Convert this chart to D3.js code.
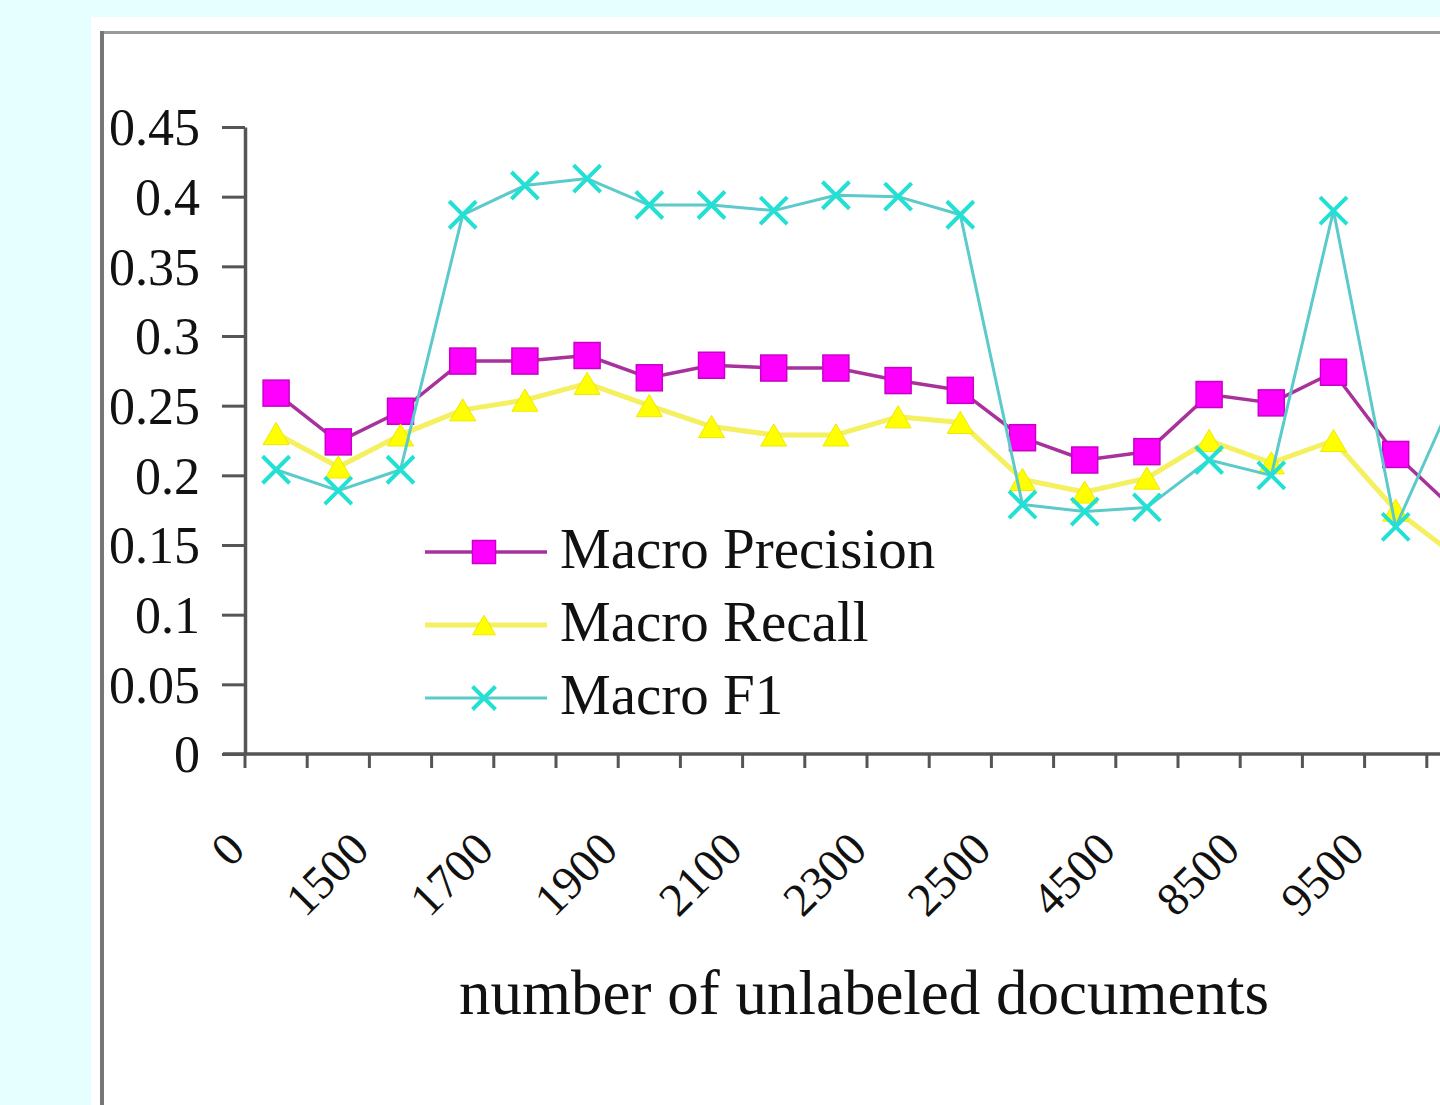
<!DOCTYPE html>
<html>
<head>
<meta charset="utf-8">
<script src="https://cdn.jsdelivr.net/npm/d3@7"></script>
<style>
    html, body { margin: 0; padding: 0; background: #e6ffff; overflow: hidden; }
    svg { display: block; }
    text { font-family: "Liberation Serif", "Times New Roman", serif; fill: #111; }
</style>
</head>
<body>
<svg id="chart"></svg>
<script>
// category labels on the x axis (only every other one is printed)
const categories = ['0', '1400', '1500', '1600', '1700', '1800', '1900', '2000', '2100', '2200',
    '2300', '2400', '2500', '3500', '4500', '6500', '8500', '9000', '9500', '10000'];

const macroPrecision = [0.259, 0.224, 0.246, 0.282, 0.282, 0.286, 0.270, 0.279, 0.277, 0.277,
    0.268, 0.261, 0.227, 0.211, 0.217, 0.258, 0.252, 0.274, 0.215, 0.173];
const macroRecall = [0.230, 0.206, 0.229, 0.247, 0.254, 0.266, 0.250, 0.235, 0.229, 0.229,
    0.242, 0.238, 0.197, 0.188, 0.198, 0.225, 0.209, 0.225, 0.175, 0.141];
const macroF1 = [0.204, 0.189, 0.204, 0.387, 0.408, 0.413, 0.394, 0.394, 0.390, 0.401,
    0.400, 0.387, 0.179, 0.174, 0.177, 0.211, 0.200, 0.390, 0.163, 0.263];

const seriesNames = ['Macro Precision', 'Macro Recall', 'Macro F1'];

const yTicks = [0, 0.05, 0.1, 0.15, 0.2, 0.25, 0.3, 0.35, 0.4, 0.45];
const yTickLabels = ['0', '0.05', '0.1', '0.15', '0.2', '0.25', '0.3', '0.35', '0.4', '0.45'];

const xTitle = 'number of unlabeled documents';

class LineChart {
    constructor(_config) {
        this.config = {
            parentElement: _config.parentElement,
            containerWidth: 1440,
            containerHeight: 1105,
            plot: { left: 245, right: 1489, top: 127, bottom: 754 },
            legendX: 425,
            legendY: 552,
            legendStep: 73,
            styles: [
                { line: '#a8329c', width: 3.5, fill: '#ff00ff', stroke: '#c800c8', marker: 'square' },
                { line: '#f4f060', width: 5, fill: '#ffff00', stroke: '#f0e800', marker: 'triangle' },
                { line: '#5ccaca', width: 3, fill: 'none', stroke: '#22e0d4', marker: 'cross' }
            ]
        };
        this.initVis();
    }

    /**
     * Set up svg, scales and background panel
     */
    initVis() {
        let vis = this;
        const c = vis.config;

        vis.svg = d3.select(c.parentElement)
            .attr('width', c.containerWidth)
            .attr('height', c.containerHeight);

        // white chart area with grey frame
        vis.svg.append('rect')
            .attr('x', 91).attr('y', 17)
            .attr('width', c.containerWidth).attr('height', c.containerHeight)
            .attr('fill', '#fff');
        vis.svg.append('line')
            .attr('x1', 100).attr('x2', c.containerWidth)
            .attr('y1', 32.5).attr('y2', 32.5)
            .attr('stroke', '#999').attr('stroke-width', 3);
        vis.svg.append('line')
            .attr('x1', 102).attr('x2', 102)
            .attr('y1', 31).attr('y2', c.containerHeight)
            .attr('stroke', '#777').attr('stroke-width', 4);

        vis.x = d3.scaleBand()
            .domain(categories)
            .range([c.plot.left, c.plot.right]);

        vis.y = d3.scaleLinear()
            .domain([0, 0.45])
            .range([c.plot.bottom, c.plot.top]);

        vis.series = [macroPrecision, macroRecall, macroF1];

        vis.updateVis();
    }

    drawMarker(g, type, cx, cy, s, size) {
        if (type === 'square') {
            g.append('rect')
                .attr('x', cx - size / 2).attr('y', cy - size / 2)
                .attr('width', size).attr('height', size)
                .attr('fill', s.fill).attr('stroke', s.stroke).attr('stroke-width', 1.5);
        } else if (type === 'triangle') {
            const h = size * 0.85;
            g.append('path')
                .attr('d', `M${cx},${cy - h / 2}L${cx + size / 2},${cy + h / 2}L${cx - size / 2},${cy + h / 2}Z`)
                .attr('fill', s.fill).attr('stroke', s.stroke).attr('stroke-width', 1);
        } else {
            const r = size / 2;
            g.append('path')
                .attr('d', `M${cx - r},${cy - r}L${cx + r},${cy + r}M${cx - r},${cy + r}L${cx + r},${cy - r}`)
                .attr('stroke', s.stroke).attr('stroke-width', 4).attr('fill', 'none');
        }
    }

    /**
     * Draw axes, series and legend
     */
    updateVis() {
        let vis = this;
        const c = vis.config;

        // y axis
        const yAxis = d3.axisLeft(vis.y)
            .tickValues(yTicks)
            .tickFormat((d, i) => yTickLabels[i])
            .tickSize(23)
            .tickSizeOuter(0)
            .tickPadding(22);

        const yG = vis.svg.append('g')
            .attr('transform', `translate(${c.plot.left},0)`)
            .call(yAxis);
        yG.select('.domain').attr('stroke', '#555').attr('stroke-width', 3.5);
        yG.selectAll('.tick line').attr('stroke', '#555').attr('stroke-width', 3);
        yG.selectAll('.tick text')
            .attr('font-size', 52)
            .attr('fill', '#111')
            .attr('dy', '0.34em')
            .style('font-family', '"Liberation Serif", "Times New Roman", serif');

        // x axis: line, ticks at category boundaries, rotated labels
        const xG = vis.svg.append('g');
        xG.append('line')
            .attr('x1', c.plot.left - 22).attr('x2', c.plot.right)
            .attr('y1', c.plot.bottom).attr('y2', c.plot.bottom)
            .attr('stroke', '#555').attr('stroke-width', 3.5);

        const bounds = categories.map(d => vis.x(d)).concat([c.plot.right]);
        xG.selectAll('.xtick')
            .data(bounds)
            .join('line')
            .attr('class', 'xtick')
            .attr('x1', d => d).attr('x2', d => d)
            .attr('y1', c.plot.bottom).attr('y2', c.plot.bottom + 14)
            .attr('stroke', '#555').attr('stroke-width', 3);

        xG.selectAll('.xlabel')
            .data(categories.filter((d, i) => i % 2 === 0))
            .join('text')
            .attr('class', 'xlabel')
            .attr('text-anchor', 'end')
            .attr('font-size', 47)
            .attr('fill', '#222')
            .attr('transform', d => `translate(${vis.x(d) + 2},${c.plot.bottom + 98}) rotate(-45)`)
            .text(d => d);

        // x axis title
        vis.svg.append('text')
            .attr('x', (458 + 1270) / 2)
            .attr('y', 1014)
            .attr('text-anchor', 'middle')
            .attr('font-size', 63)
            .text(xTitle);

        // series
        const line = d3.line()
            .x((d, i) => vis.x(categories[i]) + vis.x.bandwidth() / 2)
            .y(d => vis.y(d));

        vis.series.forEach((values, k) => {
            const s = c.styles[k];
            const g = vis.svg.append('g');
            g.append('path')
                .datum(values)
                .attr('d', line)
                .attr('fill', 'none')
                .attr('stroke', s.line)
                .attr('stroke-width', s.width)
                .attr('stroke-linejoin', 'round');
            values.forEach((v, i) => {
                vis.drawMarker(g, s.marker, vis.x(categories[i]) + vis.x.bandwidth() / 2, vis.y(v), s, k === 2 ? 27 : 26);
            });
        });

        // legend
        seriesNames.forEach((name, k) => {
            const s = c.styles[k];
            const ly = c.legendY + k * c.legendStep;
            const g = vis.svg.append('g');
            g.append('line')
                .attr('x1', c.legendX).attr('x2', c.legendX + 122)
                .attr('y1', ly).attr('y2', ly)
                .attr('stroke', s.line).attr('stroke-width', s.width);
            vis.drawMarker(g, s.marker, c.legendX + 59, ly, s, 23);
            g.append('text')
                .attr('x', 560)
                .attr('y', ly + 16)
                .attr('font-size', 57)
                .text(name);
        });
    }
}

new LineChart({ parentElement: '#chart' });
</script>
</body>
</html>
